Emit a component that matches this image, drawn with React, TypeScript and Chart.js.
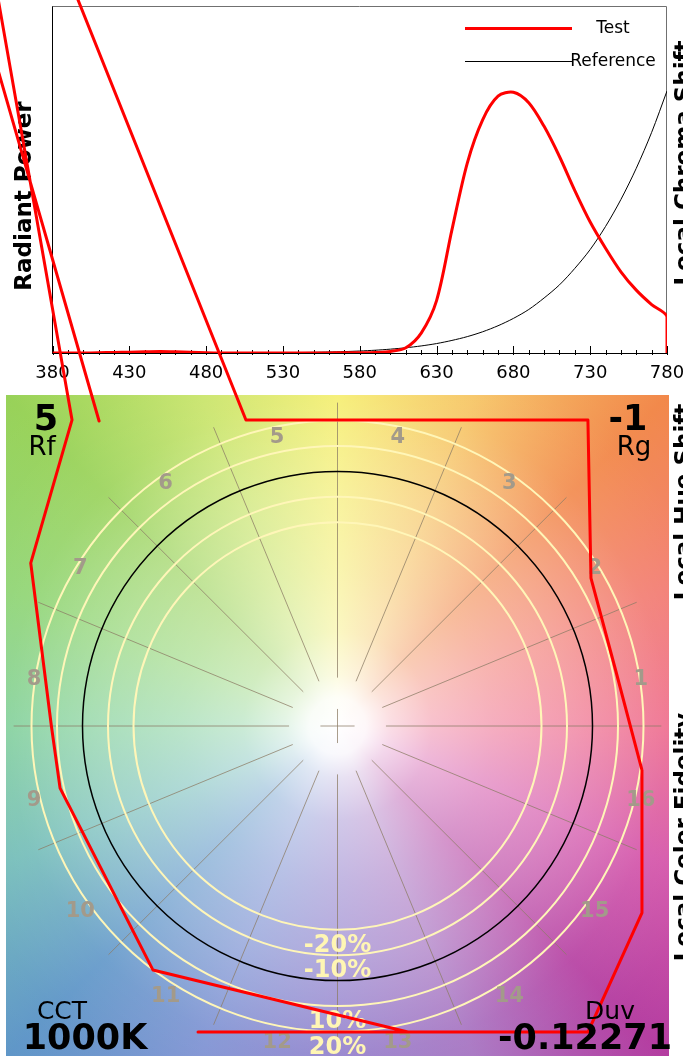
import React, { useEffect, useRef } from 'react';
import { Chart, registerables } from 'chart.js';

Chart.register(...registerables);

// ---------- Spectral power distribution data ----------
const wavelengths = [
  380, 390, 400, 410, 420, 430, 440, 450, 460, 470, 480, 490, 500, 510, 520, 530, 540, 550, 560, 570,
  580, 590, 600, 610, 620, 630, 640, 650, 660, 670, 680, 690, 700, 710, 720, 730, 740, 750, 760, 770, 780,
];
const testPower = [
  0, 0, 0, 0.001, 0.002, 0.003, 0.005, 0.006, 0.005, 0.003, 0.001, 0, 0, 0, 0, 0, 0, 0, 0, 0.001,
  0.001, 0.002, 0.006, 0.02, 0.076, 0.2, 0.47, 0.725, 0.89, 0.98, 0.995, 0.955, 0.865, 0.75, 0.62, 0.5, 0.4, 0.31, 0.24, 0.185, 0.139,
];
const testEndWavelength = 780;
const testEndPower = 0;
const referencePower = [
  0, 0, 0, 0, 0, 0, 0, 0, 0, 0, 0.0001, 0.0002, 0.0003, 0.0005, 0.0008, 0.0012, 0.0017, 0.0026, 0.0038, 0.0054,
  0.0076, 0.0106, 0.0147, 0.02, 0.027, 0.036, 0.048, 0.0625, 0.081, 0.104, 0.132, 0.166, 0.21, 0.26, 0.323, 0.395, 0.483, 0.586, 0.705, 0.842, 1.0,
];
const xTickLabels = [380, 430, 480, 530, 580, 630, 680, 730, 780];
const seriesNames = ['Test', 'Reference'];
const yAxisTitle = 'Radiant Power';

// ---------- Color vector graphic data ----------
const vectorX = [
  1.194, 1.091, 0.994, 0.982, 0.237, -0.359, -2.422, -0.935, -3.33, -3.052,
  -1.041, -1.203, -1.122, -1.088, -0.724, 0.276, -0.547, 0.982, 1.194, 1.194,
];
const vectorY = [
  -0.173, 0.218, 0.581, 1.202, 1.202, 1.202, 6.37, 1.198, 9.529, 12.671,
  1.202, 0.64, 0.0, -0.244, -0.958, -1.202, -1.202, -1.202, -0.734, -0.173,
];
const ringLevels = [0.8, 0.9, 1.1, 1.2];
const ringLabels = ['-20%', '-10%', '10%', '20%'];
const referenceRing = [1.0];
const hueBinLabels = ['1', '2', '3', '4', '5', '6', '7', '8', '9', '10', '11', '12', '13', '14', '15', '16'];
const rfValue = '5';
const rgValue = '-1';
const cctValue = '1000K';
const duvValue = '-0.12271';
const sideTitles = ['Local Chroma Shift', 'Local Hue Shift', 'Local Color Fidelity'];

const FONT = "'DejaVu Sans', 'Verdana', sans-serif";

const hueStops: [number, string][] = [
  [0, '#ee6b8c'],
  [22.5, '#f27a70'],
  [45, '#f2884a'],
  [67.5, '#f6c462'],
  [90, '#f5ee6d'],
  [112.5, '#c8e468'],
  [135, '#98d258'],
  [157.5, '#8ed472'],
  [180, '#82d09b'],
  [202.5, '#72bcb8'],
  [225, '#5f96c8'],
  [247.5, '#7c90d2'],
  [270, '#8f7dcb'],
  [292.5, '#a470c0'],
  [315, '#b43ca0'],
  [337.5, '#d452a8'],
  [360, '#ee6b8c'],
];
const whiteStops: [number, number][] = [
  [0, 1],
  [0.06, 0.95],
  [0.11, 0.78],
  [0.2, 0.58],
  [0.33, 0.45],
  [0.5, 0.32],
  [0.6, 0.22],
  [0.7, 0.1],
  [0.85, 0.03],
  [1, 0],
];

const spectrumPlugin = {
  id: 'spectrumDecor',
  beforeDatasetsDraw(chart: any) {
    const { ctx, chartArea: a, scales } = chart;
    const x = scales.x;
    ctx.save();
    ctx.strokeStyle = '#707070';
    ctx.lineWidth = 1;
    ctx.beginPath();
    ctx.moveTo(a.left, a.top + 0.5);
    ctx.lineTo(a.right - 0.5, a.top + 0.5);
    ctx.lineTo(a.right - 0.5, a.bottom);
    ctx.stroke();
    ctx.strokeStyle = '#000';
    x.ticks.forEach((t: any) => {
      const px = Math.round(x.getPixelForValue(t.value)) + 0.5;
      const major = xTickLabels.includes(t.value);
      ctx.beginPath();
      ctx.moveTo(px, a.bottom - (major ? 7 : 3));
      ctx.lineTo(px, a.bottom + 2);
      ctx.stroke();
    });
    ctx.restore();
  },
  afterDraw(chart: any) {
    const { ctx, chartArea: a } = chart;
    ctx.save();
    // legend
    chart.data.datasets.forEach((ds: any, i: number) => {
      const y = Math.round(a.top + 22 + i * 33) + 0.5;
      ctx.strokeStyle = ds.borderColor;
      ctx.lineWidth = ds.borderWidth;
      ctx.beginPath();
      ctx.moveTo(a.right - 202, y);
      ctx.lineTo(a.right - 95, y);
      ctx.stroke();
      ctx.fillStyle = '#000';
      ctx.font = `17px ${FONT}`;
      ctx.textAlign = 'center';
      ctx.textBaseline = 'middle';
      ctx.fillText(ds.label, a.right - 54, y);
    });
    // y axis title
    ctx.translate(31, 196);
    ctx.rotate(-Math.PI / 2);
    ctx.font = `bold 23px ${FONT}`;
    ctx.textAlign = 'center';
    ctx.textBaseline = 'alphabetic';
    ctx.fillStyle = '#000';
    ctx.fillText(yAxisTitle, 0, 0);
    ctx.restore();
  },
};

const wheelPlugin = {
  id: 'wheelDecor',
  beforeDatasetsDraw(chart: any) {
    const { ctx, chartArea: a, scales } = chart;
    const xs = scales.x;
    const ys = scales.y;
    const cx = xs.getPixelForValue(0);
    const cy = ys.getPixelForValue(0);
    const ux = xs.getPixelForValue(1) - cx;
    const uy = cy - ys.getPixelForValue(1);
    const u = (ux + uy) / 2;
    ctx.save();
    ctx.beginPath();
    ctx.rect(a.left, a.top, a.right - a.left, a.bottom - a.top);
    ctx.clip();
    const cg = ctx.createConicGradient(0, cx, cy);
    hueStops.forEach(([deg, col]) => cg.addColorStop((360 - deg) / 360, col));
    ctx.fillStyle = cg;
    ctx.fillRect(a.left, a.top, a.right - a.left, a.bottom - a.top);
    const rg = ctx.createRadialGradient(cx, cy, 0, cx, cy, 1.85 * u);
    whiteStops.forEach(([o, al]) => rg.addColorStop(o, `rgba(255,255,255,${al})`));
    ctx.fillStyle = rg;
    ctx.fillRect(a.left, a.top, a.right - a.left, a.bottom - a.top);

    // radial hue-bin lines
    ctx.strokeStyle = 'rgba(140,124,102,0.75)';
    ctx.lineWidth = 1;
    for (let k = 0; k < hueBinLabels.length; k++) {
      const th = (k * 2 * Math.PI) / hueBinLabels.length;
      ctx.beginPath();
      ctx.moveTo(cx + 0.19 * ux * Math.cos(th), cy - 0.19 * uy * Math.sin(th));
      ctx.lineTo(cx + 1.27 * ux * Math.cos(th), cy - 1.27 * uy * Math.sin(th));
      ctx.stroke();
    }
    ctx.beginPath();
    ctx.moveTo(cx - 0.067 * ux, cy);
    ctx.lineTo(cx + 0.067 * ux, cy);
    ctx.moveTo(cx, cy - 0.067 * uy);
    ctx.lineTo(cx, cy + 0.067 * uy);
    ctx.stroke();

    // rings
    ctx.strokeStyle = '#fff6b8';
    ctx.lineWidth = 2;
    ringLevels.forEach((r) => {
      ctx.beginPath();
      ctx.ellipse(cx, cy, r * ux, r * uy, 0, 0, Math.PI * 2);
      ctx.stroke();
    });
    ctx.strokeStyle = '#000';
    ctx.lineWidth = 1.5;
    referenceRing.forEach((r) => {
      ctx.beginPath();
      ctx.ellipse(cx, cy, r * ux, r * uy, 0, 0, Math.PI * 2);
      ctx.stroke();
    });

    // hue-bin numbers
    ctx.fillStyle = '#a39a8a';
    ctx.font = `bold 21px ${FONT}`;
    ctx.textAlign = 'center';
    ctx.textBaseline = 'middle';
    hueBinLabels.forEach((lab, i) => {
      const th = ((i + 0.5) * 2 * Math.PI) / hueBinLabels.length;
      ctx.fillText(lab, cx + 1.213 * ux * Math.cos(th), cy - 1.213 * uy * Math.sin(th) + 14);
    });

    // ring percentages
    ctx.fillStyle = '#fff6b4';
    ctx.font = `bold 24px ${FONT}`;
    ringLevels.forEach((r, i) => {
      ctx.fillText(ringLabels[i], cx, cy + r * uy + 16);
    });
    ctx.restore();
  },
  afterDatasetsDraw(chart: any) {
    const { ctx, chartArea: a } = chart;
    ctx.save();
    ctx.fillStyle = '#000';
    ctx.textBaseline = 'alphabetic';
    ctx.textAlign = 'center';
    ctx.font = `bold 35px ${FONT}`;
    ctx.fillText(rfValue, a.left + 40, a.top + 35);
    ctx.fillText(rgValue, a.right - 41, a.top + 35);
    ctx.fillText(cctValue, a.left + 79, a.bottom - 8);
    ctx.textAlign = 'right';
    ctx.fillText(duvValue, a.right + 3, a.bottom - 8);
    ctx.textAlign = 'center';
    ctx.font = `26px ${FONT}`;
    ctx.fillText('Rf', a.left + 36, a.top + 60);
    ctx.fillText('Rg', a.right - 35, a.top + 60);
    ctx.font = `25px ${FONT}`;
    ctx.fillText('CCT', a.left + 56, a.bottom - 38);
    ctx.fillText('Duv', a.right - 59, a.bottom - 38);

    // titles of the neighbouring panels (cut at the page edge)
    const centers = [163, 502, 837];
    ctx.font = `bold 23px ${FONT}`;
    sideTitles.forEach((t, i) => {
      ctx.save();
      ctx.translate(691, centers[i]);
      ctx.rotate(-Math.PI / 2);
      ctx.textAlign = 'center';
      ctx.textBaseline = 'alphabetic';
      ctx.fillText(t, 0, 0);
      ctx.restore();
    });
    ctx.restore();
  },
};

export default function App() {
  const topRef = useRef<HTMLCanvasElement>(null);
  const wheelRef = useRef<HTMLCanvasElement>(null);

  useEffect(() => {
    const testData = wavelengths.map((w, i) => ({ x: w, y: testPower[i] }));
    testData.push({ x: testEndWavelength, y: testEndPower });
    const refData = wavelengths.map((w, i) => ({ x: w, y: referencePower[i] }));

    const spectrum = new Chart(topRef.current as HTMLCanvasElement, {
      type: 'line',
      data: {
        datasets: [
          {
            label: seriesNames[0],
            data: testData,
            borderColor: '#ff0000',
            borderWidth: 3,
            pointRadius: 0,
            tension: 0.3,
            fill: false,
          },
          {
            label: seriesNames[1],
            data: refData,
            borderColor: '#000000',
            borderWidth: 1,
            pointRadius: 0,
            tension: 0.3,
            fill: false,
          },
        ],
      },
      options: {
        animation: false,
        responsive: false,
        layout: { padding: { left: 0, right: 53, top: 6, bottom: 0 } },
        plugins: { legend: { display: false }, tooltip: { enabled: false } },
        scales: {
          x: {
            type: 'linear',
            min: 380,
            max: 780,
            ticks: {
              stepSize: 10,
              autoSkip: false,
              maxRotation: 0,
              padding: 10,
              color: '#000',
              font: { family: FONT, size: 18 },
              callback: (v: any) => (xTickLabels.includes(Number(v)) ? String(v) : ''),
            },
            grid: { display: false, drawTicks: false },
            border: { display: true, color: '#000', width: 1 },
            afterFit: (s: any) => {
              s.height = 42;
            },
          },
          y: {
            min: 0,
            max: 1.3244,
            ticks: { display: false },
            grid: { display: false, drawTicks: false },
            border: { display: true, color: '#000', width: 1 },
            afterFit: (s: any) => {
              s.width = 52.5;
            },
          },
        },
      } as any,
      plugins: [spectrumPlugin],
    });

    const vectorData = vectorX.map((v, i) => ({ x: v, y: vectorY[i] }));
    const wheel = new Chart(wheelRef.current as HTMLCanvasElement, {
      type: 'scatter',
      data: {
        datasets: [
          {
            label: 'Test',
            data: vectorData,
            showLine: true,
            borderColor: '#ff0000',
            backgroundColor: '#ff0000',
            borderWidth: 3,
            pointRadius: 0,
            borderJoinStyle: 'round',
            tension: 0,
            clip: false,
          } as any,
        ],
      },
      options: {
        animation: false,
        responsive: false,
        layout: { padding: { left: 6, right: 14, top: 395, bottom: 5 } },
        plugins: { legend: { display: false }, tooltip: { enabled: false } },
        scales: {
          x: { type: 'linear', min: -1.3, max: 1.3, display: false },
          y: { type: 'linear', min: -1.3, max: 1.3, display: false },
        },
      } as any,
      plugins: [wheelPlugin],
    });

    return () => {
      spectrum.destroy();
      wheel.destroy();
    };
  }, []);

  return (
    <div
      style={{
        position: 'absolute',
        left: 0,
        top: 0,
        width: 683,
        height: 1056,
        overflow: 'hidden',
        background: '#fff',
      }}
    >
      <canvas
        ref={topRef}
        width={720}
        height={395}
        style={{ position: 'absolute', left: 0, top: 0, width: 720, height: 395 }}
      />
      <canvas
        ref={wheelRef}
        width={683}
        height={1062}
        style={{ position: 'absolute', left: 0, top: 0, width: 683, height: 1062 }}
      />
    </div>
  );
}
